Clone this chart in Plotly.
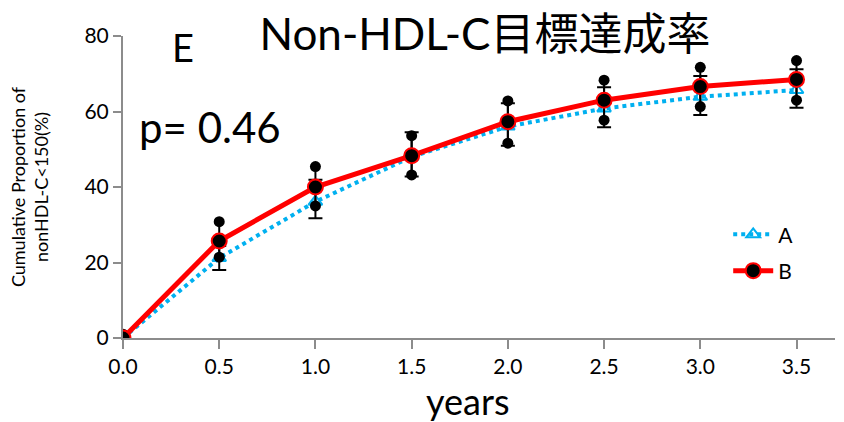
import plotly.graph_objects as go

years = [0.0, 0.5, 1.0, 1.5, 2.0, 2.5, 3.0, 3.5]
tick_labels = ["0.0", "0.5", "1.0", "1.5", "2.0", "2.5", "3.0", "3.5"]

a_mean = [0, 21.2, 36.1, 48.0, 56.0, 60.8, 63.9, 65.7]
a_upper = [0, 24.4, 41.9, 54.5, 62.2, 66.4, 69.4, 71.2]
a_lower = [0, 18.0, 31.7, 42.8, 50.9, 55.8, 59.1, 61.0]

b_mean = [0, 25.7, 40.0, 48.3, 57.3, 63.0, 66.6, 68.5]
b_upper = [1.0, 30.8, 45.4, 53.6, 62.8, 68.3, 71.7, 73.5]
b_lower = [0, 21.4, 35.0, 43.2, 51.6, 57.7, 61.3, 63.0]

FONT = "Lato, 'Noto Sans CJK JP', sans-serif"

fig = go.Figure()

# A: dotted blue with capped error bars
fig.add_trace(go.Scatter(
    x=years, y=a_mean, name="A", mode="lines+markers", legendgroup="a",
    line=dict(color="#00B0F0", width=4, dash="dot"),
    marker=dict(symbol="triangle-up-open", size=12, color="#00B0F0",
                line=dict(color="#00B0F0", width=2)),
    error_y=dict(type="data", symmetric=False,
                 array=[u - m for u, m in zip(a_upper, a_mean)],
                 arrayminus=[m - l for m, l in zip(a_mean, a_lower)],
                 color="black", thickness=2, width=7),
))

# B: error extent (bar line) with dot ends
fig.add_trace(go.Scatter(
    x=years, y=b_mean, mode="markers", showlegend=False, hoverinfo="skip",
    marker=dict(size=1, color="rgba(0,0,0,0)"),
    error_y=dict(type="data", symmetric=False,
                 array=[u - m for u, m in zip(b_upper, b_mean)],
                 arrayminus=[m - l for m, l in zip(b_mean, b_lower)],
                 color="black", thickness=2, width=0),
))
fig.add_trace(go.Scatter(
    x=years + years, y=b_upper + b_lower, mode="markers", showlegend=False,
    marker=dict(symbol="circle", size=11, color="black"),
))

# B: red solid line
fig.add_trace(go.Scatter(
    x=years, y=b_mean, name="B", mode="lines+markers", legendgroup="b",
    line=dict(color="#FF0000", width=5),
    marker=dict(symbol="circle", size=15, color="black",
                line=dict(color="#FF0000", width=2)),
))

fig.update_layout(
    width=844, height=422,
    margin=dict(l=123, r=9, t=36, b=84, autoexpand=False),
    paper_bgcolor="white", plot_bgcolor="white",
    font=dict(family=FONT, color="black"),
    title=dict(text="Non-HDL-C目標達成率", x=485 / 844, xanchor="center",
               xref="container", y=1 - 35 / 422, yref="container", yanchor="middle",
               font=dict(size=44, family=FONT, color="black")),
    legend=dict(x=0.85, y=0.41, xanchor="left", yanchor="top",
                font=dict(size=21, family=FONT), bgcolor="rgba(0,0,0,0)",
                itemwidth=40, tracegroupgap=6),
    xaxis=dict(range=[0, 3.7], tickvals=years, ticktext=tick_labels,
               showgrid=False, zeroline=False, automargin=False,
               showline=True, linecolor="#8C8C8C", linewidth=2,
               ticks="outside", ticklen=9, tickcolor="#8C8C8C", tickwidth=2,
               tickfont=dict(size=21, family=FONT)),
    yaxis=dict(range=[0, 80], tickvals=[0, 20, 40, 60, 80],
               showgrid=False, zeroline=False, automargin=False,
               showline=True, linecolor="#8C8C8C", linewidth=2,
               ticks="outside", ticklen=8, tickcolor="#8C8C8C", tickwidth=2,
               tickfont=dict(size=21, family=FONT),
               title=dict(text="Cumulative Proportion of<br>nonHDL-C&lt;150(%)",
                          font=dict(size=18, family=FONT), standoff=31)),
)

fig.add_annotation(text="years", x=(468 - 123) / 712, y=(338 - 401) / 302,
                   xref="x domain", yref="y domain", xanchor="center", yanchor="middle",
                   showarrow=False, font=dict(size=36, family=FONT))
fig.add_annotation(text="E", x=(183 - 123) / 712, y=(338 - 47) / 302,
                   xref="x domain", yref="y domain", xanchor="center", yanchor="middle",
                   showarrow=False, font=dict(size=38, family=FONT))
fig.add_annotation(text="p= 0.46", x=(137 - 123) / 712, y=(338 - 127) / 302,
                   xref="x domain", yref="y domain", xanchor="left", yanchor="middle",
                   showarrow=False, font=dict(size=42, family=FONT))

fig.write_html("out.html", config={"displayModeBar": False},
               post_script="document.body.style.margin='0';")
